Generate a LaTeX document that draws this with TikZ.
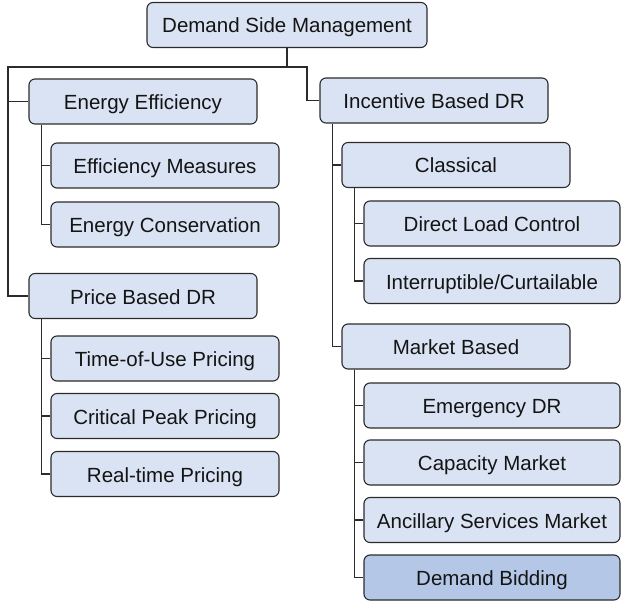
\documentclass[tikz,border=0pt]{standalone}
\usepackage{fontspec}
\setmainfont{Liberation Sans}
\newfontfamily\boxfont{Liberation Sans}
\definecolor{boxfill}{HTML}{DAE3F3}
\definecolor{boxdark}{HTML}{B4C7E7}
\definecolor{edge}{HTML}{2B2B2B}
\definecolor{txt}{HTML}{141414}
\begin{document}
\begin{tikzpicture}[x=1pt,y=-1pt,
  box/.style={draw=edge, line width=1.1pt, fill=boxfill, rounded corners=6pt,
    minimum height=45pt, minimum width=228pt, inner sep=0pt, text=txt,
    text height=16pt, text depth=0pt,
    font=\boxfont\fontsize{20.5pt}{24pt}\selectfont},
  wide/.style={box, minimum width=256pt},
  conn/.style={draw=edge, line width=1.1pt}]
\useasboundingbox (0,0) rectangle (621,604);
\node[box, minimum width=280pt] (root) at (287,25) {Demand Side Management};
\node[box] (ee) at (143,101.5) {Energy Efficiency};
\node[box] (em) at (165,165.5) {Efficiency Measures};
\node[box] (ec) at (165,224.5) {Energy Conservation};
\node[box] (pb) at (143,296) {Price Based DR};
\node[box] (tou) at (165,358.5) {Time-of-Use Pricing};
\node[box] (cpp) at (165,416) {Critical Peak Pricing};
\node[box] (rtp) at (165,474) {Real-time Pricing};
\node[box] (ib) at (434,100.5) {Incentive Based DR};
\node[box] (cl) at (456,165) {Classical};
\node[wide] (dlc) at (492,223.5) {Direct Load Control};
\node[wide] (ic) at (492,281) {Interruptible/Curtailable};
\node[box] (mb) at (456,346.5) {Market Based};
\node[wide] (edr) at (492,405.5) {Emergency DR};
\node[wide] (cm) at (492,462.5) {Capacity Market};
\node[wide] (asm) at (492,520) {Ancillary Services Market};
\node[wide, fill=boxdark] (db) at (492,577.5) {Demand Bidding};
\coordinate (jl) at (8,67);
\coordinate (jr) at (307,67);
\draw[conn] (root.south) |- (jl) |- (pb.west);
\draw[conn] (jl) |- (ee.west);
\draw[conn] (root.south |- jr) -- (jr) |- (ib.west);
\draw[conn] ([xshift=13pt]ee.south west) |- (ec.west);
\draw[conn] ([xshift=13pt]ee.south west) |- (em.west);
\draw[conn] ([xshift=13pt]pb.south west) |- (rtp.west);
\draw[conn] ([xshift=13pt]pb.south west) |- (tou.west);
\draw[conn] ([xshift=13pt]pb.south west) |- (cpp.west);
\draw[conn] ([xshift=13pt]ib.south west) |- (mb.west);
\draw[conn] ([xshift=13pt]ib.south west) |- (cl.west);
\draw[conn] ([xshift=13pt]cl.south west) |- (ic.west);
\draw[conn] ([xshift=13pt]cl.south west) |- (dlc.west);
\draw[conn] ([xshift=13pt]mb.south west) |- (db.west);
\draw[conn] ([xshift=13pt]mb.south west) |- (edr.west);
\draw[conn] ([xshift=13pt]mb.south west) |- (cm.west);
\draw[conn] ([xshift=13pt]mb.south west) |- (asm.west);
\end{tikzpicture}
\end{document}
